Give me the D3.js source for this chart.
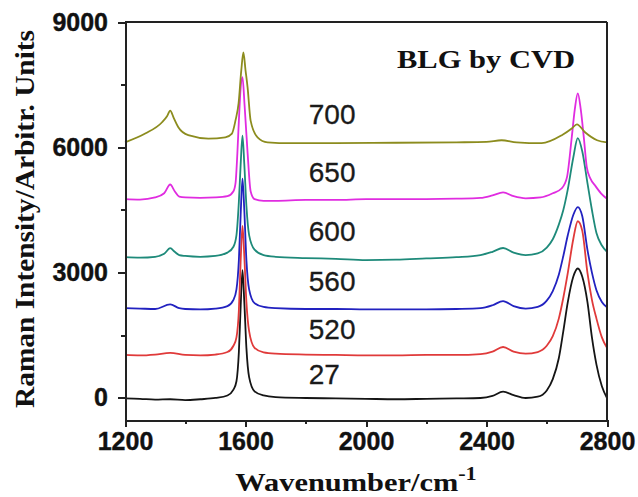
<!DOCTYPE html>
<html>
<head>
<meta charset="utf-8">
<title>BLG by CVD Raman</title>
<script src="https://d3js.org/d3.v7.min.js"></script>
<style>
body { margin: 0; background: #fff; }
svg { display: block; }
.axis path, .axis line { stroke: #222; stroke-width: 2px; shape-rendering: crispEdges; }
.axis text { font-family: "Liberation Sans", Arial, sans-serif; font-weight: bold; font-size: 25px; fill: #111; stroke: #111; stroke-width: 0.4px; }
.curve { fill: none; stroke-width: 1.8px; stroke-linejoin: round; }
.lbl { font-family: "Liberation Sans", Arial, sans-serif; font-size: 28px; fill: #1a1a1a; stroke: #1a1a1a; stroke-width: 0.3px; }
.title { font-family: "Liberation Serif", "Times New Roman", serif; font-weight: bold; fill: #111; }
</style>
</head>
<body>
<svg width="638" height="497"></svg>
<script>
// [wavenumber, intensity]
var spec27 = [[1200,-10],[1250,-20],[1300,-40],[1350,-30],[1400,-50],[1450,-30],[1500,0],[1540,60],[1560,200],[1570,400],[1578,1100],[1584,2200],[1590,3060],[1596,2300],[1603,1200],[1612,500],[1630,160],[1660,60],[1700,20],[1800,0],[1900,-10],[2000,-20],[2100,-30],[2200,-20],[2300,-10],[2380,0],[2420,50],[2455,150],[2490,70],[2530,0],[2570,30],[2600,180],[2620,450],[2640,950],[2655,1600],[2670,2300],[2688,2900],[2703,3100],[2718,2900],[2735,2300],[2750,1450],[2765,800],[2783,280],[2800,0]];
var spec520 = [[1200,1030],[1250,1020],[1300,1040],[1350,1080],[1400,1030],[1450,1020],[1500,1040],[1540,1100],[1560,1250],[1570,1450],[1578,2100],[1584,3300],[1590,4120],[1596,3400],[1603,2300],[1612,1600],[1630,1200],[1660,1090],[1700,1060],[1800,1040],[1900,1030],[2000,1020],[2100,1020],[2200,1030],[2300,1030],[2380,1050],[2420,1110],[2455,1220],[2490,1110],[2530,1060],[2570,1100],[2600,1250],[2620,1480],[2640,1900],[2655,2400],[2670,3000],[2688,3800],[2703,4230],[2718,4000],[2735,3000],[2750,2350],[2765,1900],[2783,1450],[2800,1200]];
var spec560 = [[1200,2150],[1250,2140],[1300,2130],[1350,2240],[1380,2150],[1400,2130],[1450,2120],[1500,2140],[1540,2200],[1560,2350],[1570,2600],[1578,3300],[1584,4400],[1590,5250],[1596,4500],[1603,3300],[1612,2600],[1630,2270],[1660,2180],[1700,2150],[1800,2130],[1900,2130],[2000,2120],[2100,2120],[2200,2120],[2300,2130],[2380,2150],[2420,2220],[2455,2320],[2490,2200],[2530,2140],[2570,2180],[2600,2330],[2620,2560],[2640,2950],[2655,3400],[2670,3900],[2688,4380],[2703,4570],[2718,4350],[2735,3550],[2750,3000],[2765,2580],[2783,2300],[2800,2170]];
var spec600 = [[1200,3370],[1250,3360],[1300,3380],[1330,3450],[1350,3585],[1365,3500],[1380,3420],[1400,3400],[1450,3380],[1500,3400],[1540,3480],[1560,3620],[1570,3900],[1578,4700],[1584,5600],[1590,6280],[1596,5600],[1603,4600],[1612,3900],[1630,3550],[1660,3420],[1700,3380],[1800,3350],[1900,3330],[2000,3300],[2100,3310],[2200,3340],[2300,3370],[2380,3420],[2420,3500],[2455,3590],[2490,3480],[2530,3420],[2570,3460],[2600,3600],[2620,3800],[2640,4150],[2655,4500],[2670,5000],[2688,5750],[2703,6220],[2718,5900],[2735,5150],[2750,4500],[2765,3950],[2783,3650],[2800,3500]];
var spec650 = [[1200,4760],[1250,4750],[1300,4800],[1330,4900],[1350,5110],[1365,4950],[1380,4820],[1400,4800],[1450,4790],[1500,4800],[1540,4830],[1560,4950],[1567,5150],[1573,5860],[1578,6640],[1584,7430],[1590,7680],[1597,7000],[1607,5860],[1617,4950],[1630,4760],[1660,4720],[1700,4720],[1800,4740],[1900,4740],[2000,4760],[2100,4760],[2200,4760],[2300,4770],[2380,4790],[2420,4850],[2455,4920],[2490,4830],[2530,4780],[2580,4800],[2620,4900],[2650,5020],[2667,5280],[2683,6240],[2693,6900],[2703,7290],[2713,6900],[2723,6240],[2733,5520],[2745,5250],[2760,5090],[2780,4900],[2800,4770]];
var spec700 = [[1200,6120],[1267,6330],[1323,6600],[1340,6750],[1350,6880],[1362,6700],[1377,6480],[1410,6290],[1477,6210],[1533,6240],[1555,6330],[1567,6650],[1577,7050],[1586,7840],[1593,8270],[1600,7850],[1607,7430],[1617,6640],[1640,6240],[1673,6120],[1750,6100],[1900,6100],[2100,6110],[2300,6120],[2400,6130],[2450,6170],[2500,6120],[2583,6100],[2650,6290],[2683,6450],[2700,6550],[2727,6360],[2767,6170],[2800,6120]];

var seriesNames = ["27", "520", "560", "600", "650", "700"];
var seriesData = [spec27, spec520, spec560, spec600, spec650, spec700];
var seriesColors = ["#151515", "#e03a3a", "#2222c0", "#1e8a7a", "#e02ce0", "#8c8c1e"];
var labelAt = [[1810, 330], [1810, 1420], [1810, 2560], [1810, 3760], [1810, 5160], [1810, 6560]];

var xTicks = [1200, 1600, 2000, 2400, 2800];
var xMinor = [1400, 1800, 2200, 2600];
var yTicks = [0, 3000, 6000, 9000];
var yMinor = [1500, 4500, 7500];

var svg = d3.select("svg"),
    margin = {top: 22, right: 31, bottom: 77, left: 125},
    width = +svg.attr("width") - margin.left - margin.right,
    height = +svg.attr("height") - margin.top - margin.bottom,
    g = svg.append("g").attr("transform", "translate(" + margin.left + "," + margin.top + ")");

var x = d3.scaleLinear().domain([1200, 2800]).range([0, width]);
var y = d3.scaleLinear().domain([-527, 9000]).range([height, 0]);

var line = d3.line()
    .x(function(d) { return x(d[0]); })
    .y(function(d) { return y(d[1]); })
    .curve(d3.curveMonotoneX);

// curves
for (var i = 0; i < seriesData.length; i++) {
  g.append("path")
    .datum(seriesData[i])
    .attr("class", "curve")
    .attr("stroke", seriesColors[i])
    .attr("d", line);
}

// frame top + right
g.append("line").attr("x1", 0).attr("x2", width).attr("y1", 0).attr("y2", 0)
  .attr("stroke", "#222").attr("stroke-width", 2);
g.append("line").attr("x1", width).attr("x2", width).attr("y1", 0).attr("y2", height)
  .attr("stroke", "#222").attr("stroke-width", 2);

// x axis
g.append("g").attr("class", "axis")
  .attr("transform", "translate(0," + height + ")")
  .call(d3.axisBottom(x).tickValues(xTicks).tickSize(7).tickSizeOuter(0).tickPadding(5).tickFormat(d3.format("d")));
g.append("g").attr("class", "axis")
  .attr("transform", "translate(0," + height + ")")
  .call(d3.axisBottom(x).tickValues(xMinor).tickSize(4).tickSizeOuter(0).tickFormat(""));

// y axis
g.append("g").attr("class", "axis")
  .call(d3.axisLeft(y).tickValues(yTicks).tickSize(7).tickSizeOuter(0).tickPadding(10).tickFormat(d3.format("d")));
g.append("g").attr("class", "axis")
  .call(d3.axisLeft(y).tickValues(yMinor).tickSize(4).tickSizeOuter(0).tickFormat(""));

// series labels
for (var i = 0; i < seriesNames.length; i++) {
  g.append("text")
    .attr("class", "lbl")
    .attr("x", x(labelAt[i][0]))
    .attr("y", y(labelAt[i][1]))
    .text(seriesNames[i]);
}

g.append("text")
  .attr("class", "title")
  .attr("x", width - 32)
  .attr("y", 46)
  .attr("text-anchor", "end")
  .style("font-size", "25px")
  .attr("textLength", 178)
  .attr("lengthAdjust", "spacingAndGlyphs")
  .text("BLG by CVD");

// axis titles
svg.append("text")
  .attr("class", "title")
  .attr("transform", "translate(34," + (margin.top + height / 2 - 2) + ") rotate(-90)")
  .attr("text-anchor", "middle")
  .style("font-size", "28px")
  .attr("textLength", 378)
  .attr("lengthAdjust", "spacingAndGlyphs")
  .text("Raman Intensity/Arbitr. Units");

var xt = svg.append("text")
  .attr("class", "title")
  .attr("transform", "translate(" + (margin.left + width / 2 - 10) + ",491) scale(1.17,1)")
  .attr("text-anchor", "middle")
  .style("font-size", "26px");
xt.append("tspan").text("Wavenumber/cm");
xt.append("tspan").attr("dy", -11).style("font-size", "19px").text("-1");
</script>
</body>
</html>
